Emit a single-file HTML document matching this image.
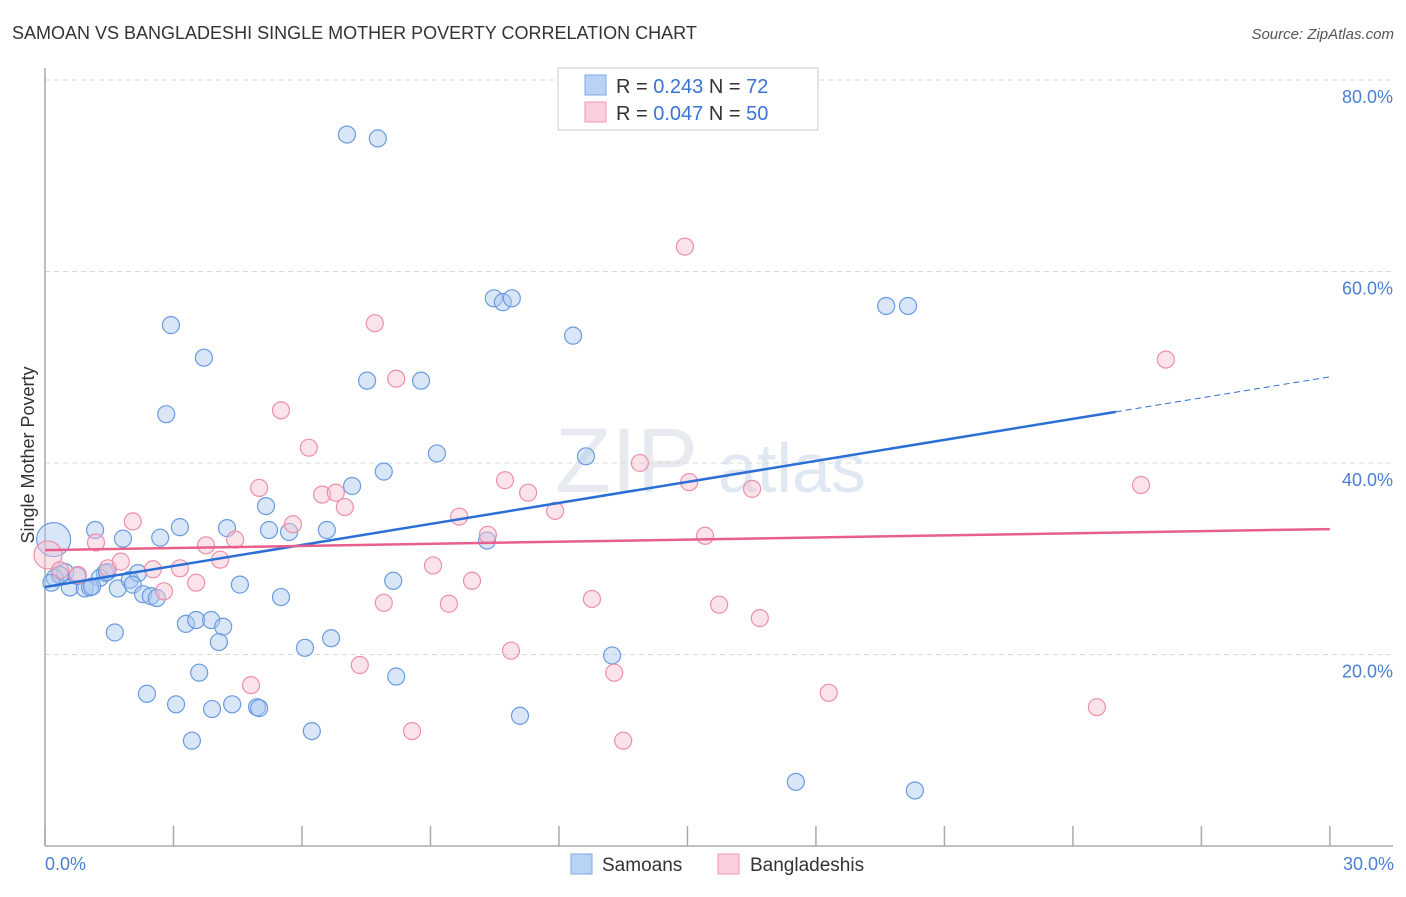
<!DOCTYPE html>
<html><head><meta charset="utf-8"><style>
body{margin:0;background:#fff;font-family:"Liberation Sans",sans-serif;}
svg text{font-family:"Liberation Sans",sans-serif;}
</style></head><body>
<svg width="1406" height="892" xmlns="http://www.w3.org/2000/svg">
<text x="12" y="39" font-size="18" fill="#333">SAMOAN VS BANGLADESHI SINGLE MOTHER POVERTY CORRELATION CHART</text>
<text x="1394" y="39" font-size="15" fill="#555" font-style="italic" text-anchor="end">Source: ZipAtlas.com</text>
<text x="555" y="492" font-size="92" fill="#ccd3dd" font-family="Liberation Serif" opacity="0.45">ZIP</text>
<text x="718" y="492" font-size="70" fill="#b9cde6" opacity="0.45">atlas</text>
<g id="grid"></g>
<g id="axes"></g>
<g id="pts"></g>
<g id="lines"></g>
<text transform="translate(34,455) rotate(-90)" font-size="18" fill="#333" text-anchor="middle">Single Mother Poverty</text>
<text x="45" y="870" font-size="18" fill="#4a7fd4">0.0%</text>
<text x="1394" y="870" font-size="18" fill="#4a7fd4" text-anchor="end">30.0%</text>
<g>
<rect x="558" y="68" width="260" height="62" fill="#fff" stroke="#ccc"/>
<rect x="585" y="75" width="21" height="20" fill="#b8d3f5" stroke="#7ea9e6"/>
<rect x="585" y="102" width="21" height="20" fill="#fbd0dc" stroke="#ef9ab2"/>
<text x="616" y="93" font-size="20" fill="#333">R = <tspan fill="#3a73d4">0.243</tspan>   N = <tspan fill="#3a73d4">72</tspan></text>
<text x="616" y="120" font-size="20" fill="#333">R = <tspan fill="#3a73d4">0.047</tspan>   N = <tspan fill="#3a73d4">50</tspan></text>
</g>
<g>
<rect x="571" y="854" width="21" height="20" fill="#b8d3f5" stroke="#7ea9e6"/>
<text x="602" y="871" font-size="19" fill="#333">Samoans</text>
<rect x="718" y="854" width="21" height="20" fill="#fbd0dc" stroke="#ef9ab2"/>
<text x="750" y="871" font-size="19" fill="#333">Bangladeshis</text>
</g>
</svg>
<script>
const yTicks=[20,40,60,80];
const yTickLabels=["20.0%","40.0%","60.0%","80.0%"];
const xTicks=[0,3,6,9,12,15,18,21,24,27,30];
const samoanX=[7.05,7.77,2.94,3.71,2.83,10.48,10.69,10.90,12.33,19.64,20.15,7.52,8.78,9.15,12.63,7.91,7.17,5.16,1.17,3.15,2.69,1.82,4.25,5.23,5.70,6.58,10.32,8.13,4.55,5.51,1.40,0.47,0.58,0.93,1.28,1.70,1.98,2.17,2.05,2.29,2.47,2.61,0.23,0.35,1.05,1.45,1.63,3.29,3.53,3.88,4.16,4.06,6.07,6.68,13.24,3.60,8.20,2.38,3.06,3.90,4.37,4.95,5.00,6.23,11.09,3.43,17.53,20.31,0.20,0.15,0.75,1.10];
const samoanY=[74.3,73.9,54.4,51.0,45.1,57.2,56.8,57.2,53.3,56.4,56.4,48.6,48.6,41.0,40.7,39.1,37.6,35.5,33.0,33.3,32.2,32.1,33.2,33.0,32.8,33.0,31.9,27.7,27.3,26.0,28.5,28.6,27.0,26.9,28.0,26.9,27.8,28.5,27.3,26.3,26.1,25.9,28.0,28.3,27.0,28.6,22.3,23.2,23.6,23.6,22.9,21.3,20.7,21.7,19.9,18.1,17.7,15.9,14.8,14.3,14.8,14.5,14.4,12.0,13.6,11.0,6.7,5.8,32.0,27.5,28.2,27.1];
const samoanR=[8.5,8.5,8.5,8.5,8.5,8.5,8.5,8.5,8.5,8.5,8.5,8.5,8.5,8.5,8.5,8.5,8.5,8.5,8.5,8.5,8.5,8.5,8.5,8.5,8.5,8.5,8.5,8.5,8.5,8.5,8.5,8.5,8.5,8.5,8.5,8.5,8.5,8.5,8.5,8.5,8.5,8.5,8.5,8.5,8.5,8.5,8.5,8.5,8.5,8.5,8.5,8.5,8.5,8.5,8.5,8.5,8.5,8.5,8.5,8.5,8.5,8.5,8.5,8.5,8.5,8.5,8.5,8.5,17,8.5,8.5,8.5];
const bangX=[14.94,7.70,8.20,26.17,5.51,6.16,13.89,10.74,15.04,11.28,16.51,25.59,5.00,6.47,6.79,7.00,9.67,11.91,2.05,5.79,10.34,15.41,1.19,3.76,4.44,1.47,1.77,2.52,3.15,4.09,3.53,2.78,9.06,9.97,7.91,9.43,12.77,15.74,16.69,10.88,7.35,13.29,4.81,18.30,24.56,8.57,13.50,0.07,0.35,0.77];
const bangY=[62.6,54.6,48.8,50.8,45.5,41.6,40.0,38.2,38.0,36.9,37.3,37.7,37.4,36.7,36.9,35.4,34.4,35.0,33.9,33.6,32.5,32.4,31.7,31.4,32.0,29.0,29.7,28.9,29.0,29.9,27.5,26.6,29.3,27.7,25.4,25.3,25.8,25.2,23.8,20.4,18.9,18.1,16.8,16.0,14.5,12.0,11.0,30.4,28.8,28.3];
const bangR=[8.5,8.5,8.5,8.5,8.5,8.5,8.5,8.5,8.5,8.5,8.5,8.5,8.5,8.5,8.5,8.5,8.5,8.5,8.5,8.5,8.5,8.5,8.5,8.5,8.5,8.5,8.5,8.5,8.5,8.5,8.5,8.5,8.5,8.5,8.5,8.5,8.5,8.5,8.5,8.5,8.5,8.5,8.5,8.5,8.5,8.5,8.5,14,8.5,8.5];
const samoanTrend=[27.05,49.0];
const samoanTrendSolidEnd=25;
const bangTrend=[30.9,33.1];
const NS="http://www.w3.org/2000/svg";
const X=v=>45+v*42.83, Y=v=>846-v*9.575;
function mk(tag,attrs,parent){const e=document.createElementNS(NS,tag);for(const k in attrs)e.setAttribute(k,attrs[k]);parent.appendChild(e);return e;}
const grid=document.getElementById('grid'),axes=document.getElementById('axes'),pts=document.getElementById('pts'),lines=document.getElementById('lines');
yTicks.forEach((t,i)=>{
 const l=mk('line',{x1:45,x2:1393,y1:Y(t),y2:Y(t),stroke:'#d8d8d8','stroke-dasharray':'5,4'},grid);
 
 
 const tx=mk('text',{x:1393,y:Y(t)+23,'font-size':18,fill:'#4a7fd4','text-anchor':'end'},grid);
 tx.textContent=yTickLabels[i];
 
 
});
const ya=mk('line',{x1:45,x2:45,y1:68,y2:846,stroke:'#aaa','stroke-width':1.5},axes);


const xa=mk('line',{x1:45,x2:1393,y1:846,y2:846,stroke:'#aaa','stroke-width':1.5},axes);


xTicks.forEach(t=>{
 const l=mk('line',{x1:X(t),x2:X(t),y1:826,y2:846,stroke:'#aaa','stroke-width':1.5},axes);
 
 
});
function dots(xs,ys,rs,fill,stroke,name){
 xs.forEach((x,i)=>{
  const c=mk('circle',{cx:X(x),cy:Y(ys[i]),r:rs[i],fill:fill,'fill-opacity':0.45,stroke:stroke,'stroke-width':1.2},pts);
  
  
 });
}
dots(samoanX,samoanY,samoanR,'#a9c8f0','#6a9be0','samoan-point');
dots(bangX,bangY,bangR,'#f7c0d0','#ec8fab','bangladeshi-point');
const sy=x=>samoanTrend[0]+(samoanTrend[1]-samoanTrend[0])*x/30;
const s1=mk('line',{x1:X(0),y1:Y(sy(0)),x2:X(samoanTrendSolidEnd),y2:Y(sy(samoanTrendSolidEnd)),stroke:'#2b6fd6','stroke-width':2.5},lines);


const s2=mk('line',{x1:X(samoanTrendSolidEnd),y1:Y(sy(samoanTrendSolidEnd)),x2:X(30),y2:Y(sy(30)),stroke:'#2b6fd6','stroke-width':1,'stroke-dasharray':'6,4'},lines);


const b1=mk('line',{x1:X(0),y1:Y(bangTrend[0]),x2:X(30),y2:Y(bangTrend[1]),stroke:'#e8608a','stroke-width':2.5},lines);


</script>
</body></html>
